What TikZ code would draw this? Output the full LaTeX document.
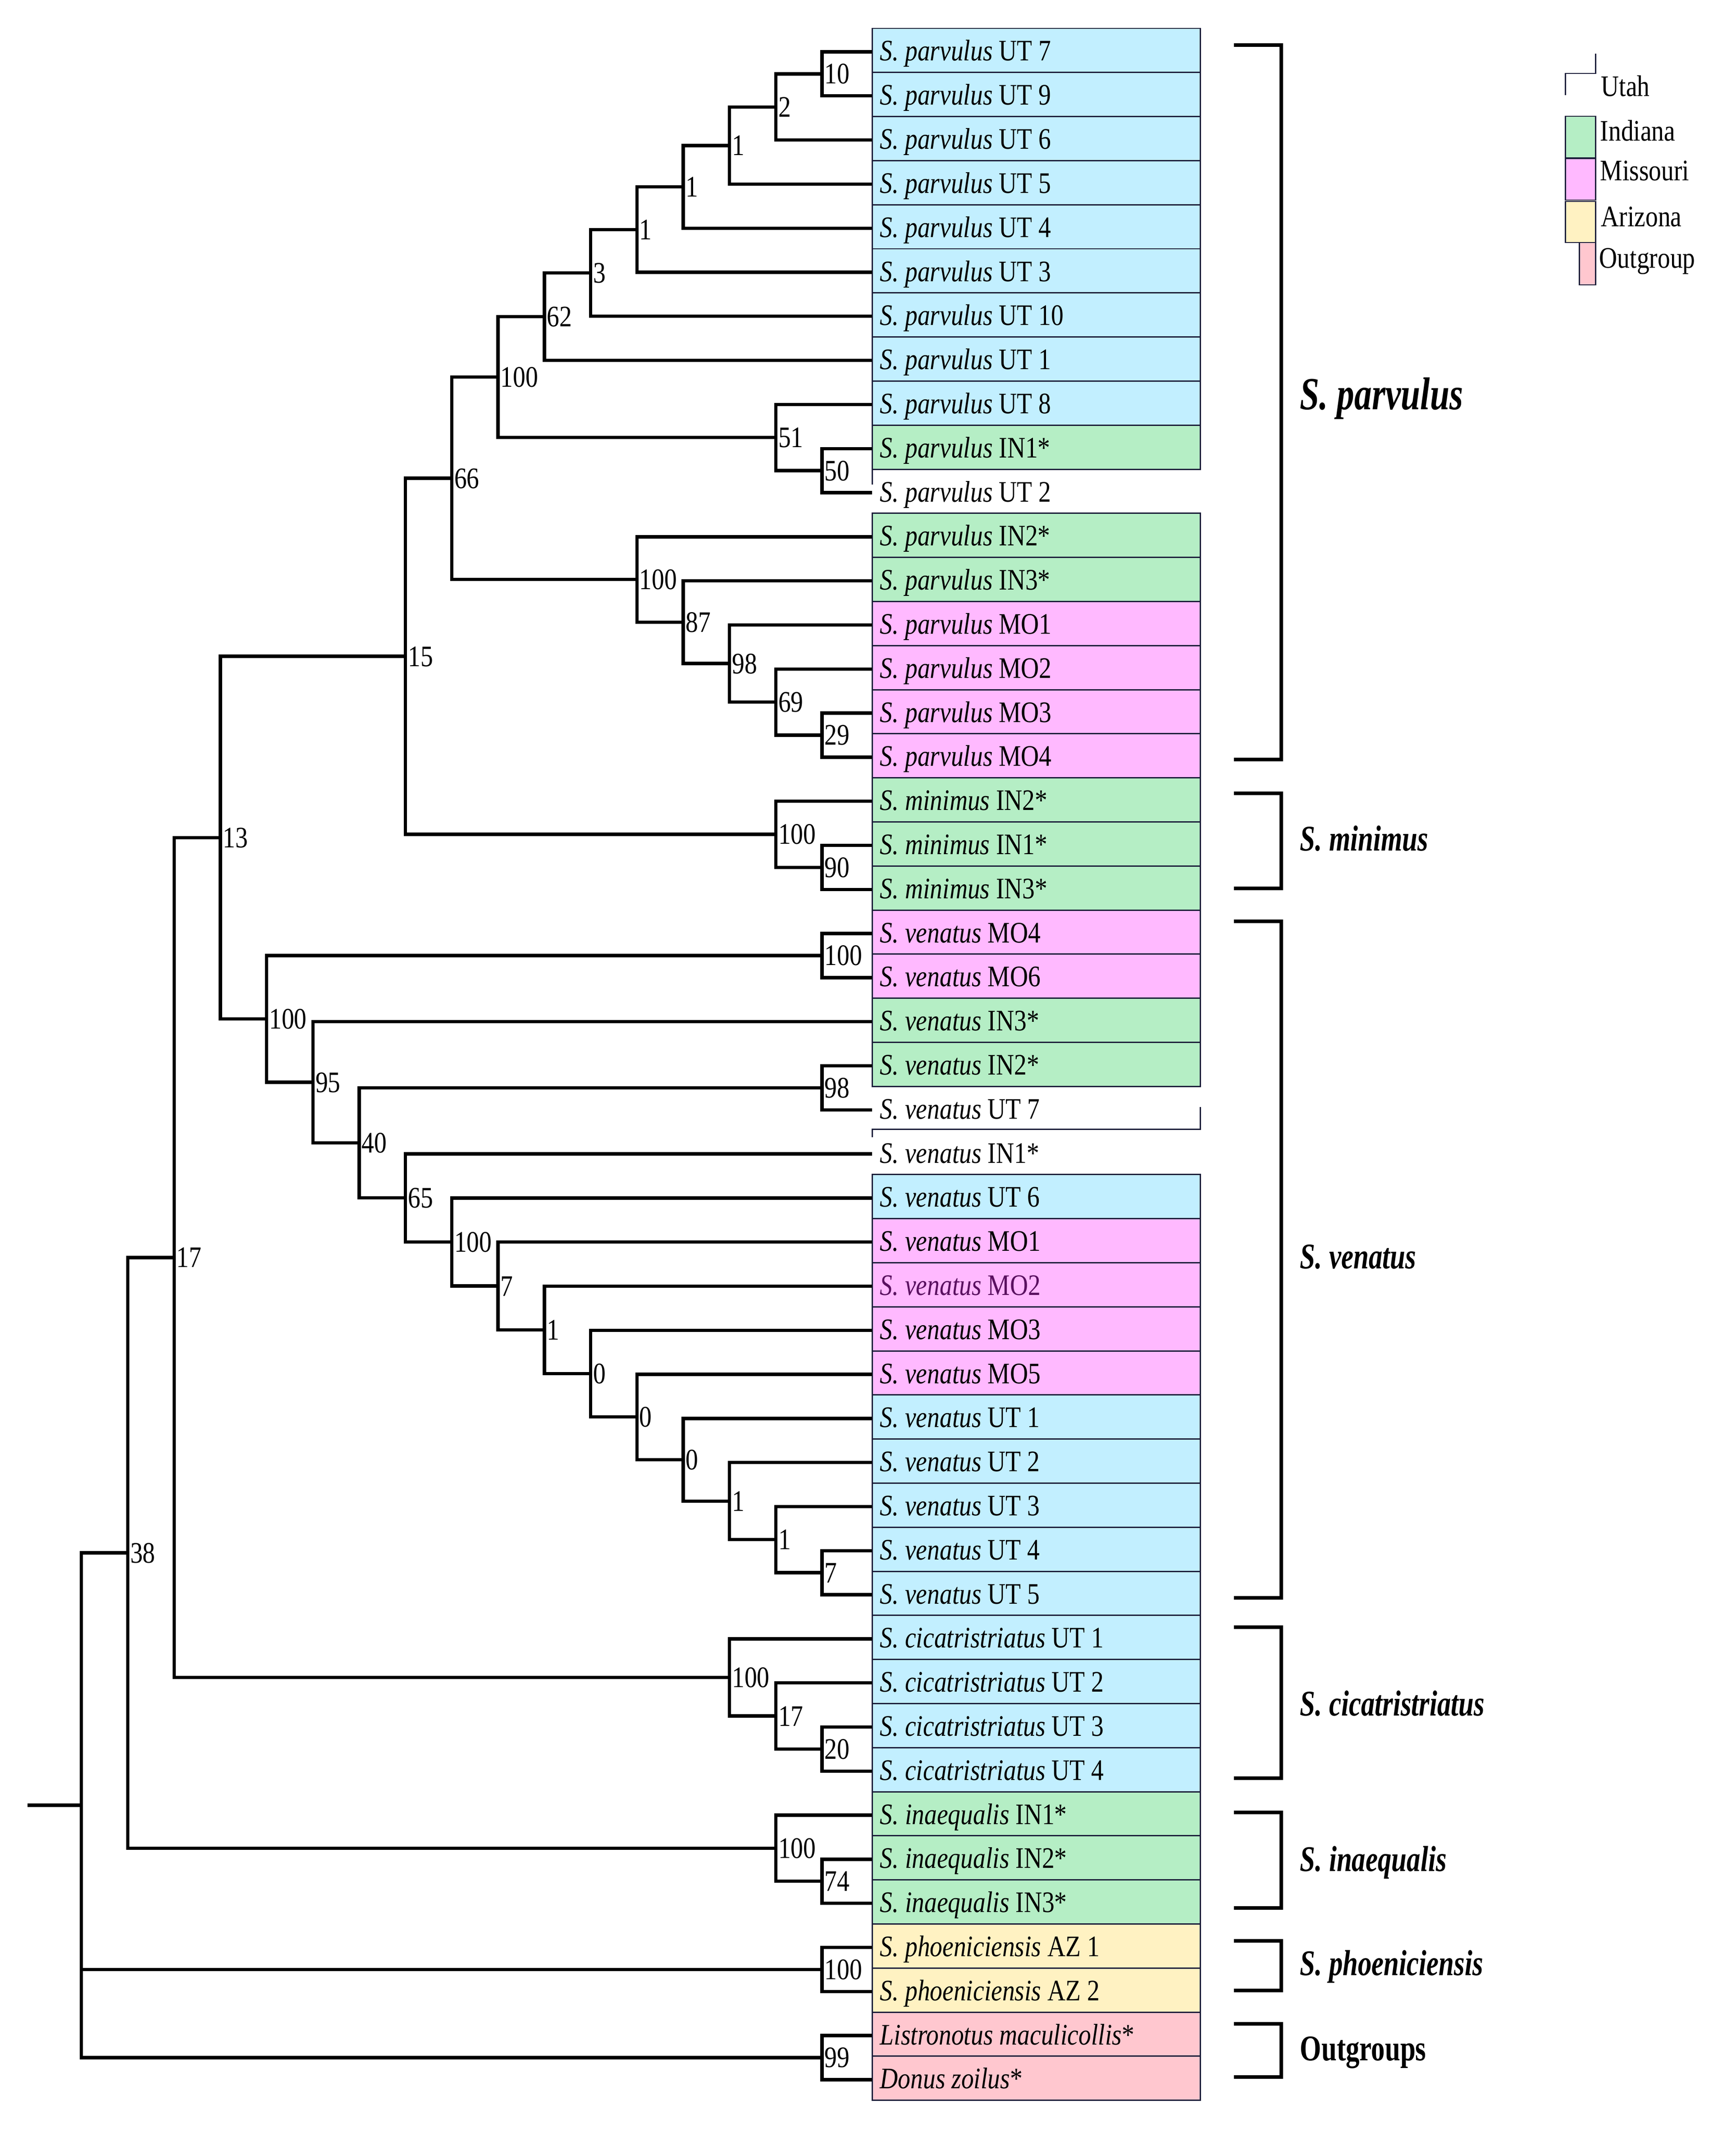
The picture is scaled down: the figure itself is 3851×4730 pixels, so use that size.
\documentclass[tikz,border=0pt]{standalone}
\usepackage{fontspec}
\setmainfont{Liberation Serif}
\newfontfamily\leaffont{Liberation Serif}[FakeStretch=0.84]
\newfontfamily\cladefont{Liberation Serif}[FakeStretch=0.76]
\usepackage{xcolor}
\definecolor{utah}{HTML}{C2EFFF}
\definecolor{indiana}{HTML}{B5EEC5}
\definecolor{missouri}{HTML}{FFB9FF}
\definecolor{arizona}{HTML}{FFF2C2}
\definecolor{outgrp}{HTML}{FFC7CF}
\definecolor{boxedge}{HTML}{1C1E3A}
\definecolor{mopurple}{HTML}{5A1060}
\newcommand{\xlev}[1]{1824-102.7*(#1)}
\newcommand{\yrow}[1]{115+97.8*(#1-1)}

\begin{document}
\begin{tikzpicture}[x=0.01cm, y=-0.01cm,
    branch/.style={line width=2.1pt},
    bracket/.style={line width=2.4pt},
    rowbox/.style={draw=boxedge, line width=0.85pt},
    leaf/.style={anchor=base west, inner sep=0pt, font=\leaffont\fontsize{18.8pt}{20pt}\selectfont},
    boot/.style={anchor=base west, inner sep=0pt, xshift=0.05cm, yshift=-0.22cm, font=\leaffont\fontsize{18.8pt}{20pt}\selectfont},
    clade/.style={anchor=base west, inner sep=0pt, font=\cladefont\bfseries\itshape\fontsize{22.8pt}{24pt}\selectfont}]
      \useasboundingbox (0,0) rectangle (3851,4730);

      % coloured rows behind the tips
      \foreach \i in {1,2,3,4,5,6,7,8,9,27,32,33,34,35,36,37,38,39,40}
        \draw[rowbox, fill=utah] (1935,{\yrow{\i}-52}) rectangle (2663,{\yrow{\i}+45.8});
      \foreach \i in {10,12,13,18,19,20,23,24,41,42,43}
        \draw[rowbox, fill=indiana] (1935,{\yrow{\i}-52}) rectangle (2663,{\yrow{\i}+45.8});
      \foreach \i in {14,15,16,17,21,22,28,29,30,31}
        \draw[rowbox, fill=missouri] (1935,{\yrow{\i}-52}) rectangle (2663,{\yrow{\i}+45.8});
      \foreach \i in {44,45}
        \draw[rowbox, fill=arizona] (1935,{\yrow{\i}-52}) rectangle (2663,{\yrow{\i}+45.8});
      \foreach \i in {46,47}
        \draw[rowbox, fill=outgrp] (1935,{\yrow{\i}-52}) rectangle (2663,{\yrow{\i}+45.8});
      \draw[rowbox] (1935,1041) -- (1935,1075);
      \draw[rowbox] (2663,2456) -- (2663,2505) -- (1935,2505) -- (1935,2523);

      % tips
      \foreach \i in {1,...,47}
        \coordinate (l\i) at (1935,{\yrow{\i}});
      \foreach \i/\sp/\code in {1/parvulus/UT 7, 2/parvulus/UT 9, 3/parvulus/UT 6, 4/parvulus/UT 5,
          5/parvulus/UT 4, 6/parvulus/UT 3, 7/parvulus/UT 10, 8/parvulus/UT 1, 9/parvulus/UT 8,
          10/parvulus/IN1*, 11/parvulus/UT 2, 12/parvulus/IN2*, 13/parvulus/IN3*, 14/parvulus/MO1,
          15/parvulus/MO2, 16/parvulus/MO3, 17/parvulus/MO4, 18/minimus/IN2*, 19/minimus/IN1*,
          20/minimus/IN3*, 21/venatus/MO4, 22/venatus/MO6, 23/venatus/IN3*, 24/venatus/IN2*,
          25/venatus/UT 7, 26/venatus/IN1*, 27/venatus/UT 6, 28/venatus/MO1, 30/venatus/MO3,
          31/venatus/MO5, 32/venatus/UT 1, 33/venatus/UT 2, 34/venatus/UT 3, 35/venatus/UT 4,
          36/venatus/UT 5, 37/cicatristriatus/UT 1, 38/cicatristriatus/UT 2, 39/cicatristriatus/UT 3,
          40/cicatristriatus/UT 4, 41/inaequalis/IN1*, 42/inaequalis/IN2*, 43/inaequalis/IN3*,
          44/phoeniciensis/AZ 1, 45/phoeniciensis/AZ 2}
        \node[leaf] (t\i) at (1952,{\yrow{\i}+20}) {\textit{S. \sp} \code};
      \node[leaf, text=mopurple] (t29) at (1952,{\yrow{29}+20}) {\textit{S. venatus} MO2};
      \node[leaf] (t46) at (1952,{\yrow{46}+20}) {\textit{Listronotus maculicollis}*};
      \node[leaf] (t47) at (1952,{\yrow{47}+20}) {\textit{Donus zoilus}*};

      % internal nodes: name/level/row/support
      \foreach \n/\k/\r/\s in {pa10/0/1.5/10, pa2/1/2.25/2, pa1a/2/3.125/1, pa1b/3/4.0625/1,
          pa1c/4/5.0313/1, pa3/5/6.0156/3, pa62/6/7.0078/62, pa50/0/10.5/50, pa51/1/9.75/51,
          pa100/7/8.379/100, pb29/0/16.5/29, pb69/1/15.75/69, pb98/2/14.875/98, pb87/3/13.9375/87,
          pb100/4/12.969/100, p66/8/10.674/66, m90/0/19.5/90, m100/1/18.75/100, n15/9/14.712/15,
          v100a/0/21.5/100, v98/0/24.5/98, v7b/0/35.5/7, v1c/1/34.75/1, v1b/2/33.875/1,
          v0c/3/32.9375/0, v0b/4/31.969/0, v0a/5/30.984/0, v1a/6/29.992/1, v7a/7/28.996/7,
          v100b/8/27.998/100, v65/9/26.999/65, v40/10/25.75/40, v95/11/24.375/95, v100/12/22.94/100,
          n13/13/18.826/13, c20/0/39.5/20, c17/1/38.75/17, c100/2/37.875/100, n17/14/28.35/17,
          i74/0/42.5/74, i100/1/41.75/100, n38/15/35.05/38, ph100/0/44.5/100, o99/0/46.5/99}
        {
          \coordinate (\n) at ({\xlev{\k}},{\yrow{\r}});
          \node[boot] (b\n) at (\n) {\s};
        }
      \coordinate (root) at ({\xlev{16}},{\yrow{40.775}});
      \coordinate (stub) at (61,{\yrow{40.775}});

      % branches: parent/first child/last child
      \foreach \p/\a/\b in {pa10/l1/l2, pa2/pa10/l3, pa1a/pa2/l4, pa1b/pa1a/l5, pa1c/pa1b/l6,
          pa3/pa1c/l7, pa62/pa3/l8, pa50/l10/l11, pa51/l9/pa50, pa100/pa62/pa51, pb29/l16/l17,
          pb69/l15/pb29, pb98/l14/pb69, pb87/l13/pb98, pb100/l12/pb87, p66/pa100/pb100,
          m90/l19/l20, m100/l18/m90, n15/p66/m100, v100a/l21/l22, v98/l24/l25, v7b/l35/l36,
          v1c/l34/v7b, v1b/l33/v1c, v0c/l32/v1b, v0b/l31/v0c, v0a/l30/v0b, v1a/l29/v0a,
          v7a/l28/v1a, v100b/l27/v7a, v65/l26/v100b, v40/v98/v65, v95/l23/v40, v100/v100a/v95,
          n13/n15/v100, c20/l39/l40, c17/l38/c20, c100/l37/c17, n17/n13/c100, i74/l42/l43,
          i100/l41/i74, n38/n17/i100, ph100/l44/l45, o99/l46/l47, root/n38/o99}
        \draw[branch] (\a) -| (\p) |- (\b);
      \draw[branch] (root) |- (ph100);
      \draw[branch] (stub) -- (root);

      % species brackets
      \foreach \top/\bot in {100/1685, 1760/1971, 2044/3545, 3610/3945, 4021/4233, 4306/4416, 4490/4608}
        \draw[bracket] (2738,\top) -| (2843,\bot) -- (2738,\bot);
      \node[clade] (cpar) at (2884,908) {\fontsize{29pt}{30pt}\selectfont S. parvulus};
      \node[clade] (cmin) at (2884,1887) {S. minimus};
      \node[clade] (cven) at (2884,2814) {S. venatus};
      \node[clade] (ccic) at (2884,3806) {S. cicatristriatus};
      \node[clade] (cina) at (2884,4151) {S. inaequalis};
      \node[clade] (cpho) at (2884,4382) {S. phoeniciensis};
      \node[clade, font=\cladefont\bfseries\fontsize{22.8pt}{24pt}\selectfont] (cout) at (2884,4571) {Outgroups};

      % legend
      \draw[rowbox] (3540,119) -- (3540,163) -- (3473,163) -- (3473,211);
      \draw[rowbox, fill=indiana] (3473,258) rectangle (3540,350);
      \draw[rowbox, fill=missouri] (3473,352) rectangle (3540,444);
      \draw[rowbox, fill=arizona] (3473,447) rectangle (3540,538);
      \draw[rowbox, fill=outgrp] (3504,538) rectangle (3540,632);
      \node[leaf] (kut) at (3552,214) {Utah};
      \node[leaf] (kin) at (3550,312) {Indiana};
      \node[leaf] (kmo) at (3550,400) {Missouri};
      \node[leaf] (kaz) at (3552,502) {Arizona};
      \node[leaf] (kog) at (3548,594) {Outgroup};
    \end{tikzpicture}
\end{document}
